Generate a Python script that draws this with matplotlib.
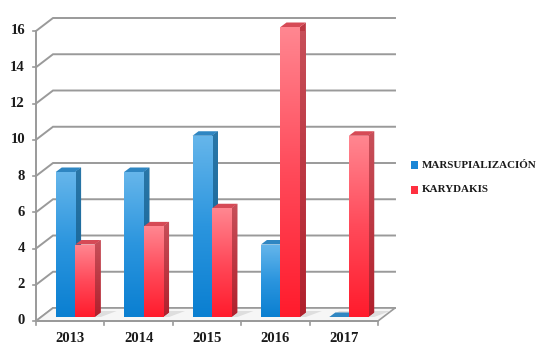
import numpy as np
import matplotlib
matplotlib.use("Agg")
import matplotlib.pyplot as plt
from matplotlib.patches import Polygon, Rectangle
from matplotlib.colors import LinearSegmentedColormap

categories = ["2013", "2014", "2015", "2016", "2017"]
series_names = ["MARSUPIALIZACIÓN", "KARYDAKIS"]
marsupializacion = [8, 8, 10, 4, 0]
karydakis = [4, 5, 6, 16, 10]
y_ticks = [0, 2, 4, 6, 8, 10, 12, 14, 16]

W, H = 546, 353
fig = plt.figure(figsize=(W / 100, H / 100), dpi=100)
L, R, B, T = 36, 378, 321, 31
ax = fig.add_axes([L / W, (H - B) / H, (R - L) / W, (B - T) / H])
ax.set_xlim(0, 5)
ax.set_ylim(0, 16)
ax.axis("off")

PX = (R - L) / 5.0
PY = (B - T) / 16.0
WX, WY = 17 / PX, 13 / PY
DX, DY = 6 / PX, 4.5 / PY
BASE = 4 / PY
BW = 0.283
grid_c = "#9a9a9a"
FONT = "Liberation Serif"

floor = Polygon([(0, 0), (5, 0), (5 + WX, WY), (WX, WY)], closed=True,
                facecolor="#f6f6f6", edgecolor=grid_c, lw=1.2, clip_on=False, zorder=1)
ax.add_patch(floor)
for v in y_ticks:
    ax.plot([0, WX, 5 + WX], [v, v + WY, v + WY], color=grid_c, lw=1.4,
            clip_on=False, zorder=0.5, solid_joinstyle="miter")
    ax.plot([-3 / PX, 0], [v, v], color=grid_c, lw=1.2, clip_on=False, zorder=2)
    ax.text(-11 / PX, v, str(v), ha="right", va="center", fontsize=10.5,
            family=FONT, weight="bold", color="#1a1a1a")
ax.plot([0, 0], [0, 16], color=grid_c, lw=1.4, clip_on=False, zorder=2)
ax.plot([0, 5], [0, 0], color=grid_c, lw=1.4, clip_on=False, zorder=2)
for i in range(6):
    ax.plot([i, i], [0, -4 / PY], color=grid_c, lw=1.2, clip_on=False, zorder=2)
for i, c in enumerate(categories):
    ax.text(i + 0.5, -17 / PY, c, ha="center", va="center", fontsize=10.5,
            family=FONT, weight="bold", color="#1a1a1a")

blue_cmap = LinearSegmentedColormap.from_list("b", ["#0a7fd1", "#2b95de", "#66b6eb"])
red_cmap = LinearSegmentedColormap.from_list("r", ["#ff1b2c", "#ff4a5a", "#ff8791"])
blue_side = LinearSegmentedColormap.from_list("bs", ["#0f5f92", "#2a77a8"])
red_side = LinearSegmentedColormap.from_list("rs", ["#b0202c", "#c8505a"])
blue_top, red_top = "#2f86c2", "#d64a56"

grad = np.linspace(0, 1, 256).reshape(-1, 1)

for i in range(5):
    x0 = i + 0.43 - BW / 2
    x1 = i + 0.716 + BW / 2
    sh = Polygon([(x0, BASE), (x1 + DX, BASE), (x1 + DX + 16 / PX, BASE + 6 / PY),
                  (x0 + 10 / PX, BASE + 6 / PY)], closed=True, facecolor="#d8d8d8",
                 edgecolor="none", alpha=0.8, clip_on=False, zorder=1.5)
    ax.add_patch(sh)

def draw_series(vals, offset, cmap, scmap, topc, z):
    bars = ax.bar(np.arange(5) + offset, vals, width=BW, bottom=BASE,
                  color=cmap(0.5), edgecolor="none", zorder=z, clip_on=False)
    for rect, v in zip(bars, vals):
        x0 = rect.get_x()
        x1 = x0 + rect.get_width()
        top = BASE + v
        side = Polygon([(x1, BASE), (x1 + DX, BASE + DY), (x1 + DX, top + DY), (x1, top)],
                       closed=True, facecolor=scmap(0.5), edgecolor="none",
                       zorder=z - 0.2, clip_on=False)
        ax.add_patch(side)
        if v > 0:
            im = ax.imshow(grad, cmap=scmap, origin="lower", aspect="auto",
                           extent=[x1, x1 + DX, BASE, top + DY], zorder=z - 0.15)
            im.set_clip_path(side)
            im2 = ax.imshow(grad, cmap=cmap, origin="lower", aspect="auto",
                            extent=[x0, x1, BASE, top], zorder=z + 0.05)
            im2.set_clip_path(rect)
        tp = Polygon([(x0, top), (x1, top), (x1 + DX, top + DY), (x0 + DX, top + DY)],
                     closed=True, facecolor=topc, edgecolor="none",
                     zorder=z - 0.1, clip_on=False)
        ax.add_patch(tp)
    return bars

b1 = draw_series(marsupializacion, 0.43, blue_cmap, blue_side, blue_top, 3)
b2 = draw_series(karydakis, 0.716, red_cmap, red_side, red_top, 4)
ax.set_xlim(0, 5)
ax.set_ylim(0, 16)

# legend
renderer = fig.canvas.get_renderer()
texts = []
for k, (name, col) in enumerate(zip(series_names, ["#1a86d6", "#ff3040"])):
    yy = 165 + 25 * k
    fig.patches.append(Rectangle((411 / W, (H - yy - 4) / H), 7 / W, 8 / H,
                                 transform=fig.transFigure, facecolor=col,
                                 edgecolor="none", figure=fig))
    t = fig.text(422 / W, (H - yy) / H, name, ha="left", va="center", fontsize=9.5,
                 family=FONT, weight="bold", color="#1a1a1a")
    texts.append(t)
w0 = texts[0].get_window_extent(renderer).width
scale = 115.0 / w0
for t in texts:
    t.set_fontsize(9.5 * scale)

fig.savefig("out.png", dpi=100)
